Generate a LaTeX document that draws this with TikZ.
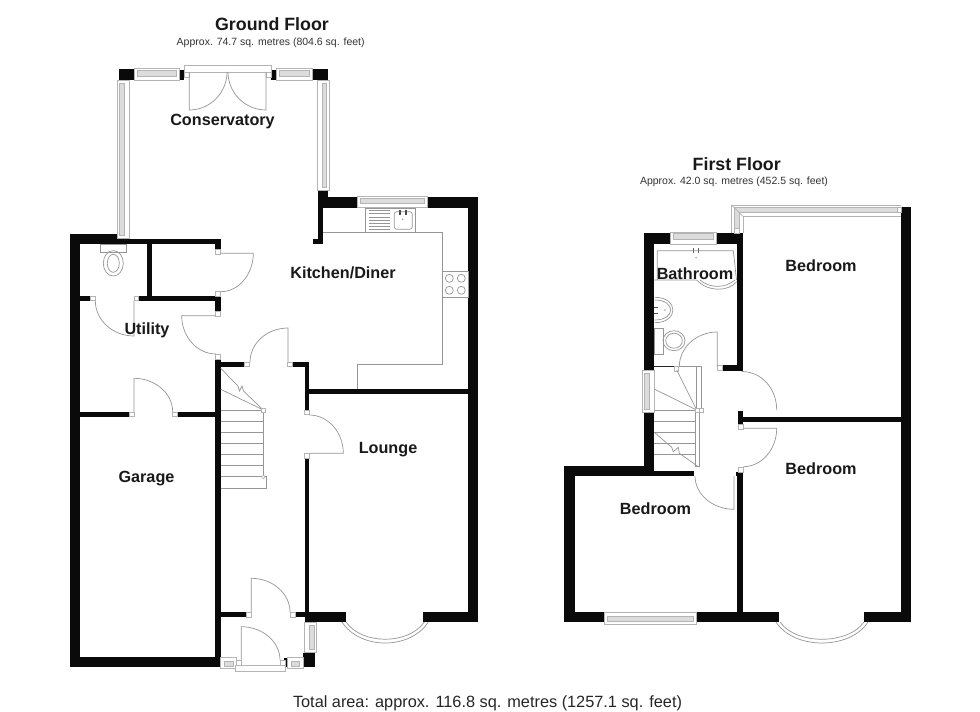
\documentclass[tikz,border=0pt]{standalone}
\usepackage{fontspec}
\setmainfont{Liberation Sans}
\usetikzlibrary{calc}
\definecolor{wallblack}{HTML}{0a0a0a}
\definecolor{fitline}{HTML}{969696}
\definecolor{frameline}{HTML}{b4b4b4}
\definecolor{glass}{HTML}{dcdcdc}
% door: hinge, leaf tip, closed end of the swing
\newcommand{\doorleaf}[6]{
    \draw[fitting] (#1,#2) -- (#3,#4)
        .. controls ($(#3,#4)+0.55*(#5,#6)-0.55*(#1,#2)$) and ($(#5,#6)+0.55*(#3,#4)-0.55*(#1,#2)$) .. (#5,#6);
}
% windows: [inset] frame x1,y1,x2,y2 then the two edges of the glass
\newcommand{\winh}[7][3]{
    \draw[glazing,fill=white] (#2,#3) rectangle (#4,#5);
    \draw[glazing,fill=glass] (#2+#1,#6) rectangle (#4-#1,#7);
}
\newcommand{\winv}[7][3]{
    \draw[glazing,fill=white] (#2,#3) rectangle (#4,#5);
    \draw[glazing,fill=glass] (#6,#3+#1) rectangle (#7,#5-#1);
}
\begin{document}
\begin{tikzpicture}[
        x=1pt, y=-1pt,
        wall/.style={fill=wallblack},
        fitting/.style={draw=fitline, line width=0.7pt},
        glazing/.style={draw=frameline, line width=0.7pt},
        jamb/.style={draw=frameline, line width=0.6pt, fill=white},
        roomlabel/.style={font=\fontsize{16.2}{18}\selectfont\bfseries, text=black!90, inner sep=0pt, anchor=base},
        floortitle/.style={font=\fontsize{17.8}{20}\selectfont\bfseries, text=black!90, inner sep=0pt, anchor=base},
        floorarea/.style={font=\fontsize{10.5}{12}\selectfont, text=black!80, inner sep=0pt, anchor=base},
        totalarea/.style={font=\fontsize{16.3}{18}\selectfont, text=black!85, inner sep=0pt, anchor=base}
    ]
    \fill[white] (0,0) rectangle (980,712);
    \useasboundingbox (0,0) rectangle (980,712);

    % ground floor walls
    \foreach \xa/\ya/\xb/\yb in {
        118.7/69.3/134/80, 312.7/69.3/328/80, 179.3/70/184/80, 271.3/70/276/80,
        318/190/328/208, 328/197.3/357.3/208, 427.3/197.3/478/208, 468/197.3/478/622,
        318/208/323.3/244, 312.7/238.7/323.3/244,
        70/234/117.3/244, 70/234/80/667, 117.3/238.7/220.7/244, 215.3/244/220.7/249.3,
        147.3/244/152/296, 138.7/296/220.7/301.3, 215.3/301/220.7/311, 80/296/90/300.7,
        215.3/359/220.7/667, 70/657.3/220.7/667, 80/412/129.3/416.7, 177.3/412/216/416.7,
        220.7/362/244/366.7, 292.7/362/309.3/366.7, 304.7/362/309.3/410, 309/388.7/468/394,
        304.7/458.3/309.3/613, 304.7/612/346/622, 423.3/612/468/622,
        220.7/612/246.7/617.3, 295/612/304.7/617.3, 303.3/652.7/314.5/667, 284.3/658.3/286.7/667}
        \fill[wall] (\xa,\ya) rectangle (\xb,\yb);

    % first floor walls
    \foreach \xa/\ya/\xb/\yb in {
        644/233.3/670.7/244, 716.7/233.3/742.7/244, 644/233.3/654/370, 644/412.7/654/476,
        737.3/244/742.7/370.7, 722/365.3/737.3/370.7, 901.3/206.7/911.3/622,
        743.3/416.7/901.3/422, 738/411.3/743.3/424, 737.3/472/742.7/612, 735.5/472/737.3/476,
        564/466/654/476, 654/470.7/694/476, 564/466/574.7/622, 564/612/604/622,
        696/612/779.3/622, 864/612/911.3/622}
        \fill[wall] (\xa,\ya) rectangle (\xb,\yb);

    % door jambs
    \foreach \xa/\ya/\xb/\yb in {
        215.3/249.3/220.7/254, 215.3/291/220.7/296, 215.3/311/220.7/316, 215.3/354/220.7/359,
        244/362/249.3/366.7, 287.3/362/292.7/366.7, 90/296/95.3/300.7, 134/296/138.7/300.7,
        129.3/412/134/416.7, 172.7/412/177.3/416.7, 304.7/410/309.3/414.7, 304.7/453.3/309.3/458.3,
        246.7/612/251.3/617.3, 290/612/295/617.3, 236/660/241.3/665, 280/660/285/665,
        184/72.5/189.3/77.3, 266/72.5/271.3/77.3,
        717.3/365.3/722/370.7, 674/366/678.7/371, 738/424/743.3/429.3, 738.3/467/743.3/472}
        \draw[jamb] (\xa,\ya) rectangle (\xb,\yb);

    % windows and french doors
    \winh{134}{68.5}{179.3}{80}{70.5}{76}
    \winh{276}{68.5}{312.7}{80}{70.5}{76}
    \draw[glazing,fill=white] (184,65.3) rectangle (271.3,72.3);
    \winv{117.3}{80}{129.7}{238.7}{119.3}{124}
    \winv{317.3}{80}{329.3}{190}{322}{326.7}
    \winh{357.3}{196}{427.3}{207}{198.3}{203.3}
    \winh[3.5]{220.7}{657}{236.7}{668.5}{661.7}{666}
    \winh[3.5]{287.7}{657}{303.3}{668.5}{661.7}{666}
    \winv{304.3}{622}{316.7}{652.7}{309.5}{314.5}
    \draw[glazing,fill=white] (235.7,665) rectangle (285,671.7);
    \winh{670.7}{232}{716.7}{244}{233.7}{239.3}
    \winv{642.7}{370}{654.7}{412.7}{644.7}{649.3}
    \winh{604}{612}{696}{624}{616.7}{621.7}

    % bedroom corner window
    \fill[glass] (734,233) -- (734,207.3) -- (901.3,207.3) -- (901.3,212.3) -- (739,212.3) -- (739,233) -- cycle;
    \draw[glazing] (731.7,233) -- (731.7,205) -- (901.3,205) (743.3,233) -- (743.3,216.7) -- (901.3,216.7);
    \draw[glazing] (734,233) -- (734,207.3) -- (901.3,207.3) (739,233) -- (739,212.3) -- (901.3,212.3);
    \draw[glazing] (731.7,205) -- (743.3,216.7);
    \draw[jamb] (897.3,207.3) rectangle (901.3,212.3);
    \draw[jamb] (734,228) rectangle (739,233);

    % bay windows
    \foreach \xa/\xb/\yy in {342/428.3/622, 776/868/622} {
        \draw[fitting] (\xa,\yy) .. controls (\xa+18,\yy+28) and (\xb-18,\yy+28) .. (\xb,\yy);
        \draw[fitting] (\xa+4,\yy) .. controls (\xa+20,\yy+23) and (\xb-20,\yy+23) .. (\xb-4,\yy);
    }

    % doors
    \doorleaf{189.3}{72}{189.3}{110}{227}{72}
    \doorleaf{266}{72}{266}{110}{228}{72}
    \doorleaf{220.7}{253.3}{253.3}{253.3}{220.7}{291.7}
    \doorleaf{216}{315.7}{181.7}{315.7}{216}{354}
    \doorleaf{288}{362}{288}{328}{250}{362}
    \doorleaf{134}{300.7}{134}{336}{95.3}{300.7}
    \doorleaf{134}{412}{134}{378.3}{172.7}{412}
    \doorleaf{309.3}{453.3}{343.3}{453.3}{309.3}{415}
    \doorleaf{251.3}{612}{251.3}{578.3}{290}{612}
    \doorleaf{241.3}{660}{241.3}{626.7}{280}{660}
    \doorleaf{717.3}{366.7}{717.3}{332}{679.3}{366.7}
    \draw[fitting] (776.7,410) .. controls (776.7,388) and (761,371.5) .. (741.7,371.5);
    \doorleaf{743.3}{428.3}{776.7}{428.3}{743.3}{466.7}
    \doorleaf{734}{476}{734}{509.3}{695}{476}

    % ground floor stairs
    \foreach \yy in {410, 421, 432.3, 443.3, 454.3, 465.3, 476.7, 488}
        \draw[fitting] (220.7,\yy) -- (263.3,\yy);
    \draw[fitting] (263.3,410) -- (263.3,476.7) (220.7,488) -- (266.7,488) -- (266.7,476.7) -- (263.3,476.7);
    \draw[fitting] (220.7,368.3) -- (238,386) -- (239.5,391) -- (242,386) -- (243.5,391) -- (263.3,410) -- (220.7,389.3);
    \draw[jamb] (261.5,408.5) rectangle (265,412);
    \draw[jamb] (263.3,477) circle (1.8pt);

    % first floor stairs
    \foreach \yy in {410.7, 421.7, 432.7, 443.3, 454.3}
        \draw[fitting] (654,\yy) -- (695,\yy);
    \draw[fitting] (678.7,366) -- (701.7,366) -- (701.7,408) (696,366) -- (696,408);
    \draw[fitting] (695,410) -- (695,466) -- (699.3,466) -- (699.3,412);
    \draw[fitting] (676.7,370) -- (696.7,410) -- (654.7,389.3);
    \draw[fitting] (654.7,432.7) -- (671.7,447.3) -- (673.3,451.7) -- (678.3,447.3) -- (679.3,453.3) -- (697.3,466);
    \draw[jamb] (695,408) rectangle (699,412);
    \draw[jamb] (699,408) rectangle (703,412);

    % kitchen fittings
    \draw[fitting] (323.3,232.7) -- (442.7,232.7) -- (442.7,364) -- (357.3,364) -- (357.3,388.7);
    \draw[fitting] (365,208) rectangle (415.7,232.7);
    \foreach \yy in {210.7, 213.8, 216.9, 220, 223.1, 226.2, 229.3}
        \draw[fitting] (369.3,\yy) -- (390,\yy);
    \draw[fitting,rounded corners=2.5pt] (394.3,211.7) rectangle (412.3,229.3);
    \draw[black!70, line width=1.1pt] (400,210) -- (400,215) (406,210) -- (406,215);
    \fill[fitline] (402.7,219.3) circle (0.8pt);
    \draw[fitting] (442.7,271.7) rectangle (468,297.7);
    \foreach \xx/\yy in {449.3/278.3, 461.3/278.3, 449.3/290.3, 461.3/290.3}
        \draw[fitting] (\xx,\yy) circle (4pt);

    % ground floor WC
    \draw[fitting] (100.7,244) rectangle (126,252.7);
    \draw[fitting] (113.3,263.3) circle[x radius=10pt, y radius=12.7pt];
    \draw[fitting] (113.3,263.3) circle[x radius=6pt, y radius=9pt];

    % bathroom fittings
    \draw[fitting] (654,280) -- (696.7,280) (657.3,280) -- (657.3,250.7) -- (733.3,250.7) -- (736.5,280);
    \draw[fitting] (696.7,280) .. controls (708,292) and (728,292) .. (736.7,281.7);
    \draw[fitting] (700,280) .. controls (710,288.5) and (725,288.5) .. (735,280);
    \draw[black!60, line width=1pt] (693.3,247.5) -- (693.3,253) (698.3,247.5) -- (698.3,253);
    \fill[fitline] (696,257.7) circle (0.8pt);
    \draw[fitting] (654.7,297.3) .. controls (679,297.3) and (679,322.7) .. (654.7,322.7);
    \draw[fitting] (654.7,300) .. controls (676,300) and (676,320) .. (654.7,320);
    \draw[black!70, line width=1pt] (654,307.3) -- (658,307.3) (654,313.3) -- (658,313.3);
    \fill[fitline] (665,310) circle (0.8pt);
    \draw[fitting] (654.7,328.3) rectangle (663.3,354);
    \draw[fitting] (674,340.7) circle[x radius=11pt, y radius=10pt];
    \draw[fitting] (674,340.7) circle[x radius=8.3pt, y radius=7.5pt];
    \draw[black!85, line width=0.8pt] (654,366) -- (674,366);

    % texts
    \node[floortitle] (groundtitle) at (272,30.7) {Ground Floor};
    \node[floorarea] (groundarea) at (270.7,45) {Approx. 74.7 sq. metres (804.6 sq. feet)};
    \node[floortitle] (firsttitle) at (736.7,170) {First Floor};
    \node[floorarea] (firstarea) at (734,184.3) {Approx. 42.0 sq. metres (452.5 sq. feet)};
    \node[roomlabel] (conservatory) at (222.5,125) {Conservatory};
    \node[roomlabel] (kitchen) at (343,278.3) {Kitchen/Diner};
    \node[roomlabel] (utility) at (147,334) {Utility};
    \node[roomlabel] (garage) at (146.5,482) {Garage};
    \node[roomlabel] (lounge) at (388,453.3) {Lounge};
    \node[roomlabel] (bathroom) at (695,279.3) {Bathroom};
    \node[roomlabel] (bedroomtop) at (821,271.7) {Bedroom};
    \node[roomlabel] (bedroomright) at (821,474) {Bedroom};
    \node[roomlabel] (bedroomleft) at (655.5,514.7) {Bedroom};
    \node[totalarea] (total) at (487.5,707.3) {Total area: approx. 116.8 sq. metres (1257.1 sq. feet)};
\end{tikzpicture}
\end{document}
